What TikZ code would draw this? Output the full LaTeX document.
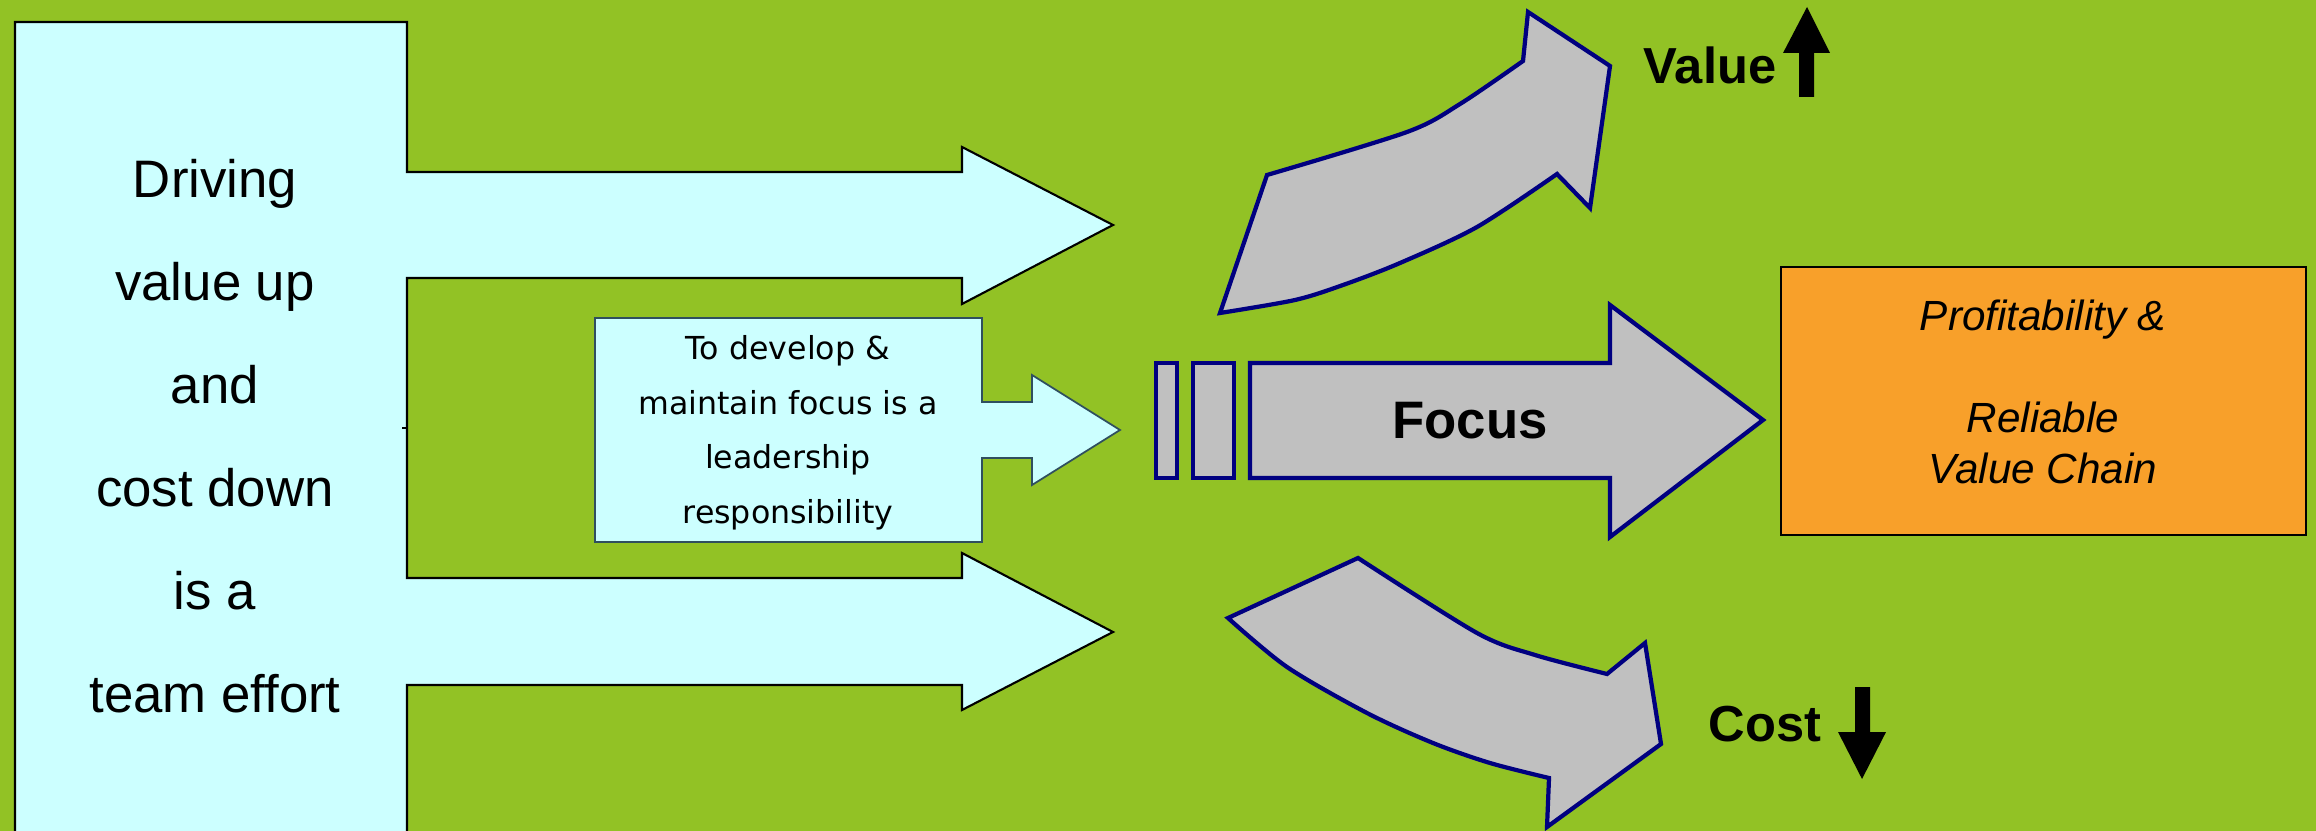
\documentclass[tikz,border=0pt]{standalone}
\usepackage{fontspec}
\setmainfont{Liberation Sans}
\newfontfamily\verdfont{DejaVu Sans}

\definecolor{bggreen}{RGB}{146,194,37}
\definecolor{palecyan}{RGB}{204,255,255}
\definecolor{focusgray}{RGB}{192,192,192}
\definecolor{navyline}{RGB}{0,0,128}
\definecolor{profitorange}{RGB}{248,160,42}
\definecolor{slateline}{RGB}{47,79,95}

\begin{document}
\begin{tikzpicture}[x=0.01cm, y=-0.01cm,
  teamshape/.style={fill=palecyan, draw=black, line width=0.6pt},
  leadshape/.style={fill=palecyan, draw=slateline, line width=0.5pt},
  greyarrow/.style={fill=focusgray, draw=navyline, line width=1.2pt},
  txtnode/.style={inner sep=0pt, align=center}]
  \useasboundingbox (0,0) rectangle (2316,831);
  \clip (0,0) rectangle (2316,831);
  \fill[bggreen] (0,0) rectangle (2316,831);

  % team box with its two arrows
  \draw[teamshape] (15,22) -- (407,22) -- (407,172) -- (962,172) -- (962,147)
    -- (1113,225) -- (962,304) -- (962,278) -- (407,278) -- (407,578)
    -- (962,578) -- (962,553) -- (1113,632) -- (962,710) -- (962,685)
    -- (407,685) -- (407,840) -- (15,840) -- cycle;
  \draw (402,428) -- (407,428);
  \node[txtnode, font=\fontsize{15}{29.3}\selectfont] (team) at (215,436)
    {Driving\\value up\\and\\cost down\\is a\\team effort};

  % leadership box
  \draw[leadshape] (595,318) -- (982,318) -- (982,402) -- (1032,402) -- (1032,375)
    -- (1120,430) -- (1032,485) -- (1032,458) -- (982,458) -- (982,542)
    -- (595,542) -- cycle;
  \node[txtnode, font=\verdfont\fontsize{9}{15.5}\selectfont] (lead) at (788,433)
    {To develop \&\\maintain focus is a\\leadership\\responsibility};

  % focus arrow
  \draw[greyarrow] (1156,363) rectangle (1177,478);
  \draw[greyarrow] (1193,363) rectangle (1234,478);
  \draw[greyarrow] (1250,363) -- (1610,363) -- (1610,305) -- (1763,420)
    -- (1610,537) -- (1610,478) -- (1250,478) -- cycle;
  \node[txtnode, font=\fontsize{15}{18}\selectfont\bfseries] (focus) at (1470,421) {Focus};

  % value arrow
  \draw[greyarrow] (1220,313) -- (1267,175)
    -- plot[smooth, tension=0.5] coordinates {(1267,175) (1407,132) (1460,104) (1523,61)}
    -- (1528,12) -- (1610,66) -- (1590,208) -- (1557,174)
    -- plot[smooth, tension=0.5] coordinates {(1557,174) (1477,227) (1400,263) (1343,285) (1295,300) (1220,313)}
    -- cycle;
  \node[txtnode, font=\fontsize{14.4}{17}\selectfont\bfseries] (value) at (1710,65) {Value};
  \fill (1799,97) -- (1799,53) -- (1783,53) -- (1807,7) -- (1830,53) -- (1814,53)
    -- (1814,97) -- cycle;

  % cost arrow
  \draw[greyarrow] (1228,618) -- (1358,558)
    -- plot[smooth, tension=0.5] coordinates {(1358,558) (1477,633) (1535,655) (1607,674)}
    -- (1645,643) -- (1661,744) -- (1547,827) -- (1549,778)
    -- plot[smooth, tension=0.5] coordinates {(1549,778) (1490,763) (1433,743) (1367,713) (1287,667) (1228,618)}
    -- cycle;
  \node[txtnode, font=\fontsize{14.4}{17}\selectfont\bfseries] (cost) at (1765,724) {Cost};
  \fill (1855,687) -- (1870,687) -- (1870,732) -- (1886,732) -- (1862,779)
    -- (1838,732) -- (1855,732) -- cycle;

  % result
  \draw[fill=profitorange, line width=0.6pt] (1781,267) rectangle (2306,535);
  \node[txtnode, font=\fontsize{12}{14.5}\selectfont\itshape] (profit) at (2043,392)
    {Profitability \&\\[14.5pt]Reliable\\Value Chain};
\end{tikzpicture}
\end{document}
